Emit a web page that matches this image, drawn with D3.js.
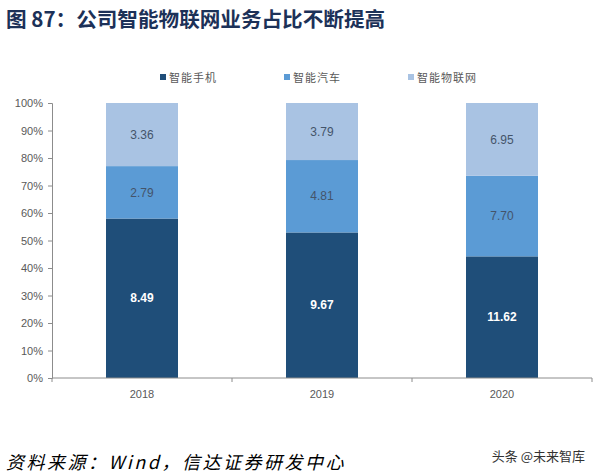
<html>
<head>
<meta charset="utf-8">
<script src="https://d3js.org/d3.v7.min.js"></script>
<style>
  body { margin: 0; background: #fff; }
  svg text { font-family: "Liberation Sans", Arial, sans-serif; }
  .axis path, .axis line { stroke: #8c8c8c; }
  .axis text { fill: #595959; font-size: 11px; }
</style>
</head>
<body>
<div id="chart"></div>
<script>
const years = ["2018", "2019", "2020"];
const seriesNames = ["智能手机", "智能汽车", "智能物联网"];
const phone = [8.49, 9.67, 11.62];
const car = [2.79, 4.81, 7.70];
const iot = [3.36, 3.79, 6.95];
const yTicks = [0, 0.1, 0.2, 0.3, 0.4, 0.5, 0.6, 0.7, 0.8, 0.9, 1];
const colors = ["#1f4e79", "#5b9bd5", "#a9c3e3"];

const width = 597, height = 475;
const margins = {top: 103, right: 5, bottom: 97, left: 52};
const chartW = width - margins.left - margins.right;
const chartH = height - margins.top - margins.bottom;

const svg = d3.select("#chart").append("svg")
  .attr("width", width).attr("height", height);

// title
svg.append("text")
  .attr("x", 6).attr("y", 27)
  .attr("fill", "#1c3158")
  .style("font-family", "'Noto Sans CJK SC', sans-serif")
  .style("font-size", "20.6px").style("font-weight", "bold")
  .text("图 87：公司智能物联网业务占比不断提高");

// build rows for stacking
const rows = years.map((y, i) => ({year: y, s0: phone[i], s1: car[i], s2: iot[i]}));
rows.forEach(r => { r.total = r.s0 + r.s1 + r.s2; });
const keys = ["s0", "s1", "s2"];
const stack = d3.stack().keys(keys).value((d, k) => d[k] / d.total);
const stacked = stack(rows);

const x = d3.scaleBand().domain(years).range([0, chartW]).paddingInner(0.6).paddingOuter(0.3);
const xAxisScale = d3.scaleBand().domain(years).range([0, chartW]);
const y = d3.scaleLinear().domain([0, 1]).range([chartH, 0]);

const g = svg.append("g").attr("transform", `translate(${margins.left},${margins.top})`);

// bars
const layers = g.selectAll("g.layer").data(stacked).join("g")
  .attr("class", "layer")
  .attr("fill", (d, i) => colors[i]);

layers.selectAll("rect").data(d => d).join("rect")
  .attr("x", d => x(d.data.year))
  .attr("width", x.bandwidth())
  .attr("y", d => y(d[1]))
  .attr("height", d => y(d[0]) - y(d[1]));

// value labels
stacked.forEach((layer, i) => {
  g.selectAll("text.lbl" + i).data(layer).join("text")
    .attr("class", "lbl" + i)
    .attr("x", d => x(d.data.year) + x.bandwidth() / 2)
    .attr("y", d => y((d[0] + d[1]) / 2))
    .attr("dy", "0.35em")
    .attr("text-anchor", "middle")
    .attr("fill", i === 0 ? "#ffffff" : "#44546a")
    .style("font-size", "12px")
    .style("font-weight", i === 0 ? "bold" : "normal")
    .text(d => d.data[layer.key].toFixed(2));
});

// y axis
g.append("g").attr("class", "axis")
  .call(d3.axisLeft(y).tickValues(yTicks).tickFormat(d3.format(".0%")).tickSize(4).tickPadding(5));

// x axis: ticks at category boundaries
const xAx = g.append("g").attr("class", "axis")
  .attr("transform", `translate(0,${chartH})`);
xAx.append("line").attr("x1", 0).attr("x2", chartW).attr("y1", 0).attr("y2", 0);
const bounds = [0].concat(years.map(yr => xAxisScale(yr) + xAxisScale.bandwidth()));
xAx.selectAll("line.tk").data(bounds).join("line").attr("class", "tk")
  .attr("x1", d => d).attr("x2", d => d).attr("y1", 0).attr("y2", 4);
xAx.selectAll("text").data(years).join("text")
  .attr("x", d => xAxisScale(d) + xAxisScale.bandwidth() / 2)
  .attr("y", 20)
  .attr("text-anchor", "middle")
  .text(d => d);

// legend
const legendX = [160, 284, 408];
const legend = svg.selectAll("g.leg").data(seriesNames).join("g")
  .attr("class", "leg")
  .attr("transform", (d, i) => `translate(${legendX[i]},78)`);
legend.append("rect").attr("x", 0).attr("y", -4).attr("width", 6).attr("height", 6)
  .attr("fill", (d, i) => colors[i]);
legend.append("text").attr("x", 9).attr("y", 0).attr("dy", "0.35em")
  .attr("fill", "#595959")
  .style("font-family", "'Noto Sans CJK SC', sans-serif")
  .style("font-size", "11px")
  .style("letter-spacing", "1px")
  .text(d => d);

// source
svg.append("text")
  .attr("x", 6).attr("y", 469)
  .attr("fill", "#000")
  .style("font-family", "'Noto Sans CJK SC', sans-serif")
  .style("font-size", "18px").style("font-style", "italic")
  .style("letter-spacing", "2.5px")
  .text("资料来源：Wind，信达证券研发中心");

// watermark
svg.append("text")
  .attr("x", 585).attr("y", 461)
  .attr("text-anchor", "end")
  .attr("fill", "#333")
  .style("font-family", "'Noto Sans CJK SC', sans-serif")
  .style("font-size", "13px")
  .text("头条 @未来智库");
</script>
</body>
</html>
